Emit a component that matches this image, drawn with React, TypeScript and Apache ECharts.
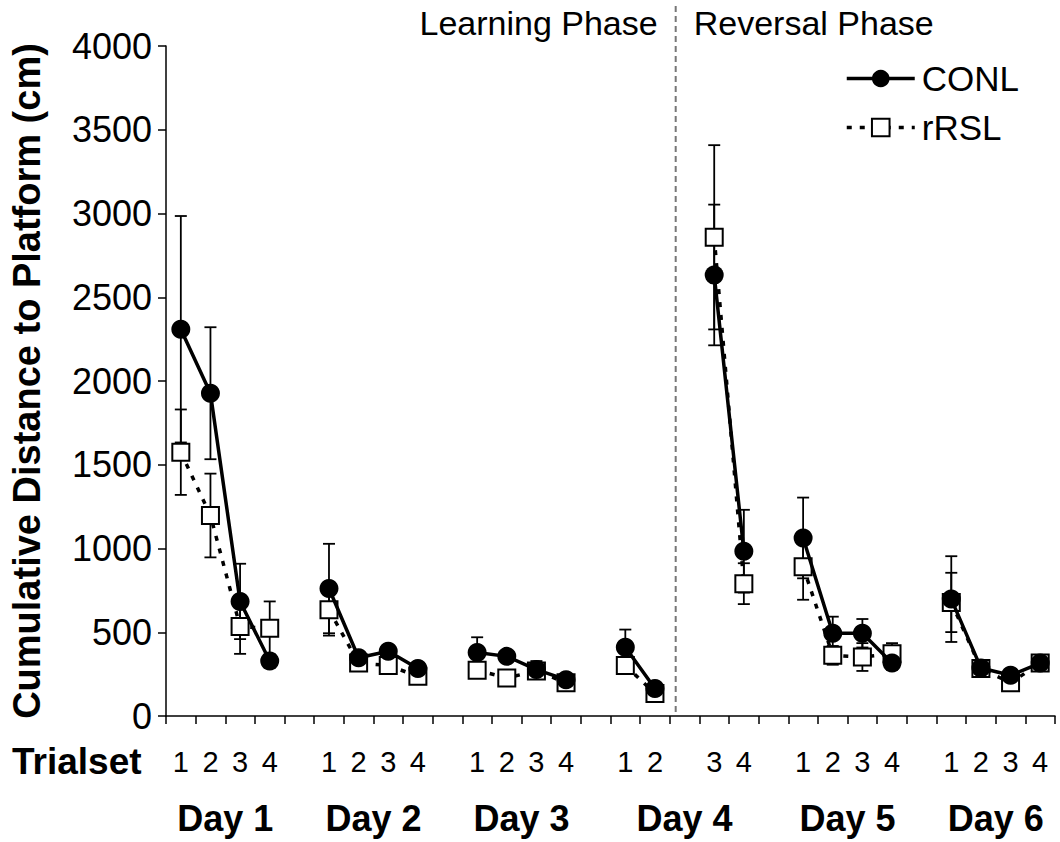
import React, { useEffect, useRef } from "react";
import * as echarts from "echarts";

// Slots along the x axis: trialset label and day for each slot (empty slots separate days/phases)
const slotTrial = ["1", "2", "3", "4", "", "1", "2", "3", "4", "", "1", "2", "3", "4", "", "1", "2", "", "3", "4", "", "1", "2", "3", "4", "", "1", "2", "3", "4"];
const slotDay = [1, 1, 1, 1, 0, 2, 2, 2, 2, 0, 3, 3, 3, 3, 0, 4, 4, 0, 4, 4, 0, 5, 5, 5, 5, 0, 6, 6, 6, 6];
const dayNames = ["Day 1", "Day 2", "Day 3", "Day 4", "Day 5", "Day 6"];

// Cumulative distance to platform (cm), mean and SEM per trialset
const conlMean = [2309, 1927, 684, 328, null, 761, 348, 387, 283, null, 379, 356, 277, 217, null, 411, 164, null, 2633, 984, null, 1063, 494, 494, 316, null, 698, 287, 243, 316];
const conlSem = [676, 394, 225, 40, null, 267, 30, 30, 30, null, 91, 30, 51, 20, null, 105, 20, null, 420, 247, null, 241, 99, 85, 40, null, 256, 30, 30, 30];
const rrslMean = [1575, 1197, 534, 524, null, 634, 316, 302, 237, null, 273, 227, 269, 198, null, 302, 134, null, 2858, 790, null, 891, 362, 352, 371, null, 678, 283, 198, 316];
const rrslSem = [255, 250, 163, 160, null, 154, 30, 40, 30, null, 40, 40, 40, 30, null, 30, 20, null, 550, 122, null, 197, 56, 83, 64, null, 177, 30, 30, 30];

const yTicks = { min: 0, max: 4000, interval: 500 };
const phaseBoundary = 17.2; // between Day 4 trialsets 2 and 3, on the slot scale
const FONT = "'Liberation Sans', Arial, sans-serif";

function errorData(mean: (number | null)[], sem: (number | null)[]) {
  const out: number[][] = [];
  mean.forEach((m, i) => {
    if (m == null || sem[i] == null) return;
    out.push([i, m - (sem[i] as number), m + (sem[i] as number)]);
  });
  return out;
}

function renderErrorBar(params: any, api: any) {
  const x = api.value(0);
  const lo = api.coord([x, api.value(1)]);
  const hi = api.coord([x, api.value(2)]);
  const half = 6;
  const style = { stroke: "#000", lineWidth: 1.8 };
  return {
    type: "group",
    children: [
      { type: "line", shape: { x1: hi[0], y1: hi[1], x2: lo[0], y2: lo[1] }, style },
      { type: "line", shape: { x1: hi[0] - half, y1: hi[1], x2: hi[0] + half, y2: hi[1] }, style },
      { type: "line", shape: { x1: lo[0] - half, y1: lo[1], x2: lo[0] + half, y2: lo[1] }, style },
    ],
  };
}

// Day label positions on the continuous slot scale (centre of each day's slots)
function dayCenters() {
  return dayNames.map((_, d) => {
    const idx = slotDay.map((v, i) => (v === d + 1 ? i : -1)).filter((i) => i >= 0);
    return (idx[0] + idx[idx.length - 1] + 1) / 2;
  });
}

export default function App() {
  const ref = useRef<HTMLDivElement>(null);

  useEffect(() => {
    if (!ref.current) return;
    const chart = echarts.init(ref.current, null, { renderer: "svg" });
    const centers = dayCenters();

    chart.setOption({
      animation: false,
      backgroundColor: "#fff",
      textStyle: { fontFamily: FONT, color: "#000" },
      grid: { left: 165, right: 5, top: 46, bottom: 126, containLabel: false },
      legend: {
        data: ["CONL", "rRSL"],
        orient: "vertical",
        left: 845,
        top: 61,
        padding: 0,
        itemWidth: 68,
        itemHeight: 22,
        itemGap: 14,
        selectedMode: false,
        textStyle: { fontSize: 35, color: "#000", fontFamily: FONT, padding: [0, 0, 0, 2] },
        lineStyle: { width: 3.5 },
      },
      xAxis: [
        {
          type: "category",
          data: slotTrial,
          position: "bottom",
          boundaryGap: true,
          axisLine: { show: true, onZero: false, lineStyle: { color: "#000", width: 1.5 } },
          axisTick: { show: true, interval: 0, length: 8, lineStyle: { color: "#000", width: 1.5 } },
          axisLabel: { interval: 0, fontSize: 29, color: "#000", margin: 31, fontFamily: FONT },
          splitLine: { show: false },
        },
        {
          type: "value",
          min: 0,
          max: slotTrial.length,
          position: "bottom",
          axisLine: { show: false },
          axisTick: { show: false },
          splitLine: { show: false },
          axisLabel: {
            customValues: centers,
            formatter: (v: number) => {
              const k = centers.findIndex((c) => Math.abs(c - v) < 1e-6);
              return k >= 0 ? dayNames[k] : "";
            },
            fontSize: 36,
            fontWeight: "bold",
            color: "#000",
            margin: 84,
            fontFamily: FONT,
          },
        },
      ],
      yAxis: {
        type: "value",
        min: yTicks.min,
        max: yTicks.max,
        interval: yTicks.interval,
        name: "Cumulative Distance to Platform (cm)",
        nameLocation: "middle",
        nameGap: 120,
        nameTextStyle: { fontSize: 38, fontWeight: "bold", color: "#000", fontFamily: FONT },
        axisLine: { show: true, lineStyle: { color: "#000", width: 1.5 } },
        axisTick: { show: true, length: 8, lineStyle: { color: "#000", width: 1.5 } },
        axisLabel: { fontSize: 36, color: "#000", margin: 14, fontFamily: FONT, formatter: (v: number) => String(v) },
        splitLine: { show: false },
      },
      series: [
        {
          type: "custom",
          name: "CONL SEM",
          xAxisIndex: 0,
          renderItem: renderErrorBar,
          data: errorData(conlMean, conlSem),
          encode: { x: 0, y: [1, 2] },
          z: 1,
          silent: true,
        },
        {
          type: "custom",
          name: "rRSL SEM",
          xAxisIndex: 0,
          renderItem: renderErrorBar,
          data: errorData(rrslMean, rrslSem),
          encode: { x: 0, y: [1, 2] },
          z: 1,
          silent: true,
        },
        {
          type: "line",
          name: "rRSL",
          xAxisIndex: 0,
          data: rrslMean,
          connectNulls: false,
          symbol: "rect",
          symbolSize: 17,
          itemStyle: { color: "#fff", borderColor: "#000", borderWidth: 2 },
          lineStyle: { color: "#000", width: 3.5, type: [5, 8] },
          emphasis: { disabled: true },
          z: 2,
          silent: true,
        },
        {
          type: "line",
          name: "CONL",
          xAxisIndex: 0,
          data: conlMean,
          connectNulls: false,
          symbol: "circle",
          symbolSize: 19,
          itemStyle: { color: "#000", borderColor: "#000", borderWidth: 0 },
          lineStyle: { color: "#000", width: 3.5 },
          emphasis: { disabled: true },
          z: 3,
          silent: true,
        },
      ],
    });

    // Phase divider and annotations placed from the axis scales
    const xLine = chart.convertToPixel({ xAxisIndex: 1 }, phaseBoundary) as number;
    const y0 = chart.convertToPixel({ yAxisIndex: 0 }, 0) as number;
    chart.setOption({
      graphic: [
        {
          type: "line",
          shape: { x1: xLine, y1: 6, x2: xLine, y2: y0 - 4 },
          style: { stroke: "#777", lineWidth: 2, lineDash: [6, 4] },
          silent: true,
        },
        {
          type: "text",
          x: xLine - 18,
          y: 23,
          style: { text: "Learning Phase", fontSize: 34, fontFamily: FONT, fill: "#000", align: "right", verticalAlign: "middle" },
        },
        {
          type: "text",
          x: xLine + 18,
          y: 23,
          style: { text: "Reversal Phase", fontSize: 34, fontFamily: FONT, fill: "#000", align: "left", verticalAlign: "middle" },
        },
        {
          type: "text",
          x: 12,
          y: y0 + 45,
          style: { text: "Trialset", fontSize: 37, fontWeight: "bold", fontFamily: FONT, fill: "#000", align: "left", verticalAlign: "middle" },
        },
      ],
    });

    return () => chart.dispose();
  }, []);

  return <div ref={ref} style={{ position: "fixed", left: 0, top: 0, width: 1060, height: 842, background: "#fff" }} />;
}
